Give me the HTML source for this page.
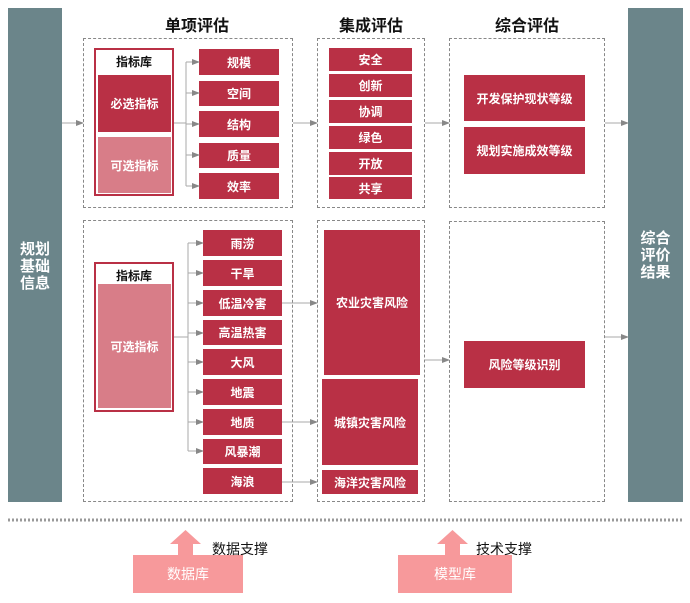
<!DOCTYPE html>
<html><head><meta charset="utf-8"><style>
body{margin:0;width:690px;height:603px;background:#fff;position:relative;overflow:hidden;font-family:"Liberation Sans","Noto Sans CJK SC",sans-serif}
div{position:absolute;box-sizing:border-box}
.r{background:#b93045;color:#fff;font-weight:bold;font-size:12px;display:flex;align-items:center;justify-content:center}
.p{background:#d87d88;color:#fff;font-weight:bold;font-size:12px;display:flex;align-items:center;justify-content:center}
.d{border:1px dashed #888}
.lib{border:2px solid #b93045;background:#fff}
.lt{font-weight:bold;font-size:12px;color:#111;text-align:center;width:100%}
.g{background:#6b858a;color:#fff;font-weight:bold;font-size:15px;line-height:17px;text-align:center}
.h{font-weight:bold;font-size:16px;color:#111;text-align:center;width:120px}
svg{position:absolute;left:0;top:0}
</style></head><body>
<div class="g" style="left:8px;top:8px;width:54px;height:494px;padding-top:233px">规划<br>基础<br>信息</div>
<div class="g" style="left:628px;top:8px;width:55px;height:494px;padding-top:222px">综合<br>评价<br>结果</div>

<div class="h" style="left:137px;top:12px">单项评估</div>
<div class="h" style="left:311px;top:12px">集成评估</div>
<div class="h" style="left:467px;top:12px">综合评估</div>

<div class="d" style="left:83px;top:38px;width:210px;height:170px"></div>
<div class="d" style="left:317px;top:38px;width:108px;height:170px"></div>
<div class="d" style="left:449px;top:38px;width:156px;height:170px"></div>
<div class="d" style="left:83px;top:220px;width:210px;height:282px"></div>
<div class="d" style="left:317px;top:220px;width:108px;height:282px"></div>
<div class="d" style="left:449px;top:221px;width:156px;height:281px"></div>

<div class="lib" style="left:94px;top:48px;width:80px;height:148px"><div class="lt" style="top:3px">指标库</div></div>
<div class="r" style="left:98px;top:75px;width:73px;height:57px">必选指标</div>
<div class="p" style="left:98px;top:137px;width:73px;height:56px">可选指标</div>

<div class="r" style="left:199px;top:49px;width:80px;height:26px">规模</div>
<div class="r" style="left:199px;top:81px;width:80px;height:25px">空间</div>
<div class="r" style="left:199px;top:111px;width:80px;height:26px">结构</div>
<div class="r" style="left:199px;top:143px;width:80px;height:25px">质量</div>
<div class="r" style="left:199px;top:173px;width:80px;height:26px">效率</div>

<div class="r" style="left:329px;top:48px;width:83px;height:23px">安全</div>
<div class="r" style="left:329px;top:74px;width:83px;height:23px">创新</div>
<div class="r" style="left:329px;top:100px;width:83px;height:23px">协调</div>
<div class="r" style="left:329px;top:126px;width:83px;height:23px">绿色</div>
<div class="r" style="left:329px;top:152px;width:83px;height:23px">开放</div>
<div class="r" style="left:329px;top:177px;width:83px;height:22px">共享</div>

<div class="r" style="left:464px;top:75px;width:121px;height:46px">开发保护现状等级</div>
<div class="r" style="left:464px;top:127px;width:121px;height:47px">规划实施成效等级</div>

<div class="lib" style="left:94px;top:262px;width:80px;height:150px"><div class="lt" style="top:3px">指标库</div></div>
<div class="p" style="left:98px;top:284px;width:73px;height:124px">可选指标</div>

<div class="r" style="left:203px;top:230px;width:79px;height:26px">雨涝</div>
<div class="r" style="left:203px;top:260px;width:79px;height:26px">干旱</div>
<div class="r" style="left:203px;top:290px;width:79px;height:26px">低温冷害</div>
<div class="r" style="left:203px;top:320px;width:79px;height:25px">高温热害</div>
<div class="r" style="left:203px;top:349px;width:79px;height:26px">大风</div>
<div class="r" style="left:203px;top:379px;width:79px;height:26px">地震</div>
<div class="r" style="left:203px;top:409px;width:79px;height:26px">地质</div>
<div class="r" style="left:203px;top:439px;width:79px;height:25px">风暴潮</div>
<div class="r" style="left:203px;top:468px;width:79px;height:26px">海浪</div>

<div class="r" style="left:324px;top:230px;width:96px;height:145px">农业灾害风险</div>
<div class="r" style="left:322px;top:379px;width:96px;height:86px">城镇灾害风险</div>
<div class="r" style="left:322px;top:470px;width:96px;height:24px">海洋灾害风险</div>

<div class="r" style="left:464px;top:341px;width:121px;height:47px">风险等级识别</div>

<svg width="690" height="603">
<defs><marker id="a" markerWidth="8" markerHeight="8" refX="7" refY="4" orient="auto" markerUnits="userSpaceOnUse"><path d="M0,1 L8,4 L0,7z" fill="#888"/></marker></defs>
<g stroke="#aaa" stroke-width="1" fill="none">
<path d="M62,123H83" marker-end="url(#a)"/>
<path d="M293,123H317" marker-end="url(#a)"/>
<path d="M425,123H449" marker-end="url(#a)"/>
<path d="M605,123H628" marker-end="url(#a)"/>
<path d="M174,123H186M186,62V186"/>
<path d="M186,62H199" marker-end="url(#a)"/><path d="M186,93H199" marker-end="url(#a)"/><path d="M186,124H199" marker-end="url(#a)"/><path d="M186,155H199" marker-end="url(#a)"/><path d="M186,186H199" marker-end="url(#a)"/>
<path d="M174,337H188M188,243V451"/>
<path d="M188,243H203" marker-end="url(#a)"/><path d="M188,273H203" marker-end="url(#a)"/><path d="M188,303H203" marker-end="url(#a)"/><path d="M188,333H203" marker-end="url(#a)"/><path d="M188,362H203" marker-end="url(#a)"/><path d="M188,392H203" marker-end="url(#a)"/><path d="M188,422H203" marker-end="url(#a)"/><path d="M188,451H203" marker-end="url(#a)"/>
<path d="M282,303H317" marker-end="url(#a)"/>
<path d="M282,422H317" marker-end="url(#a)"/>
<path d="M282,482H317" marker-end="url(#a)"/>
<path d="M425,360H449" marker-end="url(#a)"/>
<path d="M605,337H628" marker-end="url(#a)"/>
</g>
<line x1="8" y1="520" x2="683" y2="520" stroke="#999" stroke-width="3" stroke-dasharray="2,2"/>
<path d="M178,556V544H170L185.5,530L201,544H193V556Z" fill="#f7999b"/>
<path d="M445,556V544H437L452.5,530L468,544H460V556Z" fill="#f7999b"/>
</svg>
<div style="left:133px;top:555px;width:110px;height:38px;background:#f7999b;color:#fff;font-size:14px;display:flex;align-items:center;justify-content:center">数据库</div>
<div style="left:398px;top:555px;width:114px;height:38px;background:#f7999b;color:#fff;font-size:14px;display:flex;align-items:center;justify-content:center">模型库</div>
<div style="left:212px;top:539px;font-size:14px;color:#111">数据支撑</div>
<div style="left:476px;top:539px;font-size:14px;color:#111">技术支撑</div>
</body></html>
